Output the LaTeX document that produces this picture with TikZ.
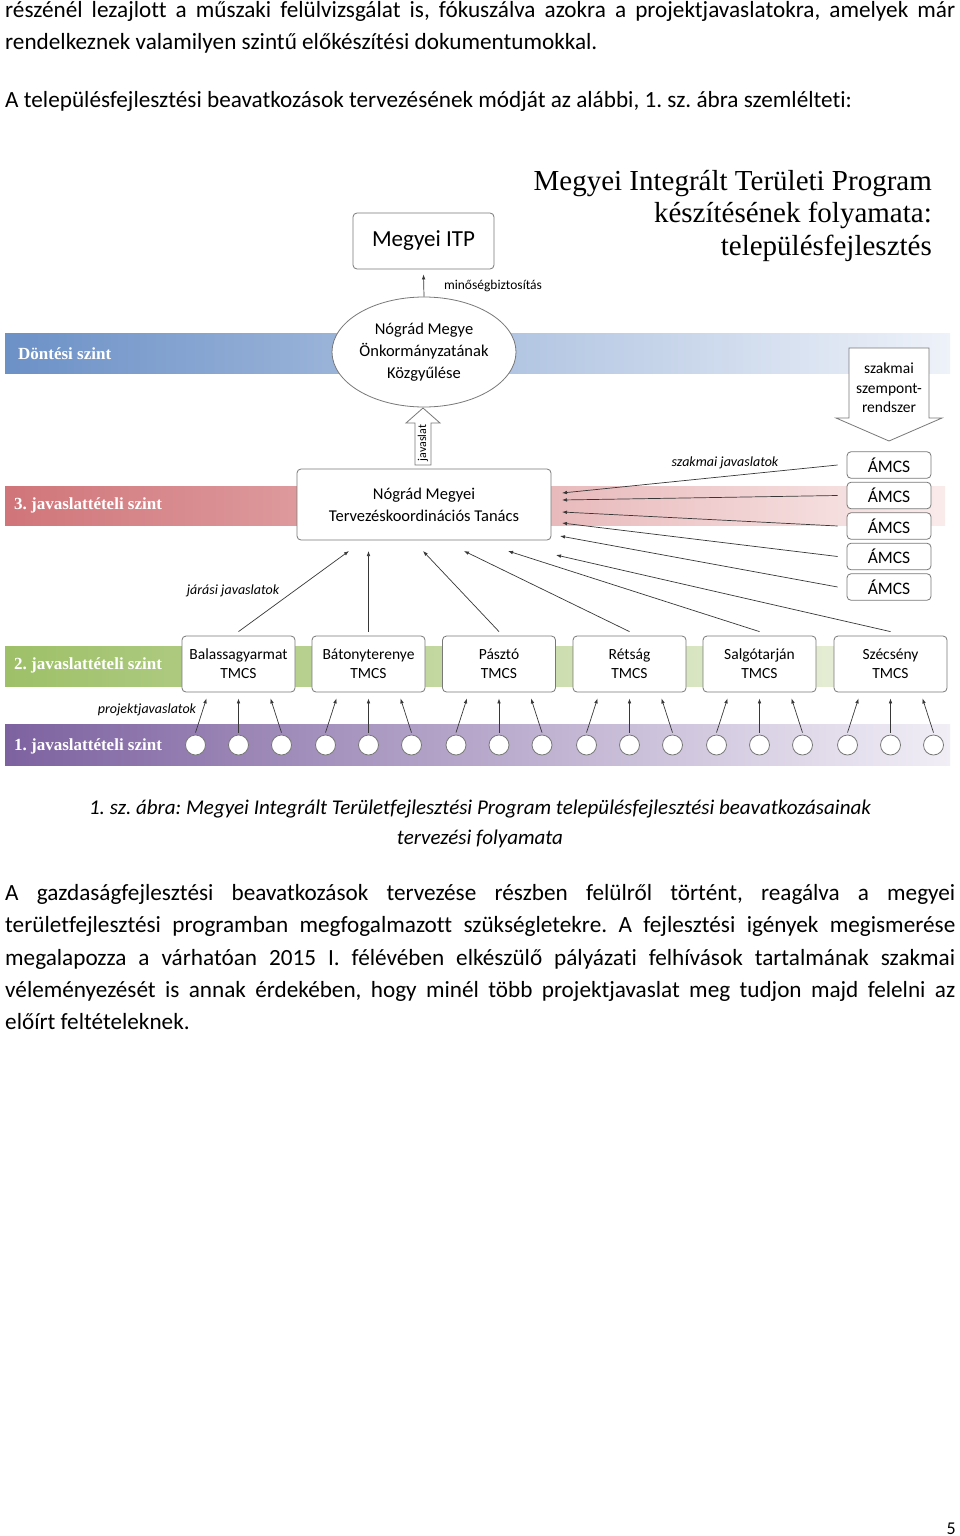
\documentclass[tikz,border=0pt]{standalone}
\usepackage{fontspec}
\setmainfont[Ligatures=NoCommon]{Carlito}
\newfontfamily\cambria{Liberation Serif}
\usetikzlibrary{arrows.meta,shapes.geometric,positioning}
\definecolor{keret}{RGB}{120,120,120}
\definecolor{vonal}{RGB}{55,55,55}
\definecolor{kekb}{RGB}{108,145,199}
\definecolor{kekj}{RGB}{238,242,249}
\definecolor{pirb}{RGB}{208,117,121}
\definecolor{pirj}{RGB}{250,235,235}
\definecolor{zolb}{RGB}{158,192,104}
\definecolor{zolj}{RGB}{238,243,226}
\definecolor{lilb}{RGB}{125,98,160}
\definecolor{lilj}{RGB}{241,238,246}
\frenchspacing
\newcommand{\fs}[2]{\fontsize{#1}{#2}\selectfont}
\newcommand{\sor}[3]{\node[szoveg] (#1) at (5,#2) {\makebox[950pt][s]{#3}};}
\newcommand{\tmcs}[3]{%
  \node[tbox] (#1) at (#2,664) {#3\\TMCS};
  \foreach \i/\d/\s in {1/-43/-32,2/0/0,3/43/32}{%
    \node[kor] (#1k\i) at ({#2+\d},745) {};
    \draw[nyil] ([yshift=2pt]#1k\i.north) -- ([xshift=\s pt,yshift=-6pt]#1.south);
  }
}

\begin{document}
\begin{tikzpicture}[x=1pt,y=-1pt,
  nyil/.style={draw=vonal, line width=0.7pt, -{Latex[length=5pt,width=3.6pt]}},
  doboz/.style={draw=keret, line width=0.8pt, rounded corners=4pt, fill=white, align=center, inner sep=0pt},
  tbox/.style={doboz, minimum width=113pt, minimum height=56pt, font=\fs{15.5}{19}},
  abox/.style={doboz, minimum width=84pt, minimum height=26.5pt, font=\fs{17.5}{20}},
  kor/.style={circle, draw=keret, line width=0.8pt, fill=white, minimum size=20pt, inner sep=0pt},
  szint/.style={anchor=west, text=white, inner sep=0pt, font=\cambria\bfseries\fs{17}{20}},
  cimke/.style={font=\itshape\fs{14}{16}, inner sep=0pt},
  szoveg/.style={anchor=base west, inner sep=0pt, font=\fs{23.2}{32.3}}]
\useasboundingbox (0,0) rectangle (960,1536);
\fill[white] (0,0) rectangle (960,1536);

% szoveg felul
\sor{t1}{18}{részénél lezajlott a műszaki felülvizsgálat is, fókuszálva azokra a projektjavaslatokra, amelyek már}
\node[szoveg] (t2) at (5,50) {rendelkeznek valamilyen szintű előkészítési dokumentumokkal.};
\node[szoveg] (t3) at (5,108) {A településfejlesztési beavatkozások tervezésének módját az alábbi, 1. sz. ábra szemlélteti:};

% szintek
\shade[left color=kekb, right color=kekj] (5,333) rectangle (950,373);
\shade[left color=pirb, right color=pirj] (5,486) rectangle (945,525);
\shade[left color=zolb, right color=zolj] (5,646) rectangle (945,686);
\shade[left color=lilb, right color=lilj] (5,724) rectangle (950,765);
\node[szint] (dsz) at (18,354) {Döntési szint};
\node[szint] (sz3) at (14,505) {3. javaslattételi szint};
\node[szint] (sz2) at (14,665) {2. javaslattételi szint};
\node[szint] (sz1) at (14,746) {1. javaslattételi szint};

% cim
\node[anchor=north east, align=right, inner sep=0pt, font=\cambria\fs{29}{32.5}] (cim) at (932,170)
  {Megyei Integrált Területi Program\\készítésének folyamata:\\településfejlesztés};

% csomopontok
\node[doboz, minimum width=141pt, minimum height=56pt, font=\fs{23}{26}] (itp) at (423.5,241) {Megyei ITP};
\node[ellipse, draw=keret, line width=0.8pt, fill=white, minimum width=184pt, minimum height=110pt,
  inner sep=0pt, align=center, font=\fs{16.5}{22}] (kozgy) at (424,352) {Nógrád Megye\\Önkormányzatának\\Közgyűlése};
\node[doboz, minimum width=254pt, minimum height=71pt, font=\fs{16.5}{22}] (tanacs) at (424,504.5)
  {Nógrád Megyei\\Tervezéskoordinációs Tanács};

\draw[nyil] (kozgy.north) -- ([yshift=-5pt]itp.south);
\node[inner sep=0pt, font=\fs{13.5}{15}] (minoseg) at (493,286) {minőségbiztosítás};

% javaslat nyil
\draw[keret, line width=0.8pt, fill=white] (415,465) -- (415,423) -- (406,423) -- (423,408)
  -- (440,423) -- (431,423) -- (431,465) -- cycle;
\node[rotate=90, inner sep=0pt, font=\fs{12}{14}] (javaslat) at (423,443) {javaslat};

% szakmai szempontrendszer
\draw[keret, line width=0.8pt, fill=white] (849,348) -- (929,348) -- (929,418) -- (942,418)
  -- (889,441) -- (836,418) -- (849,418) -- cycle;
\node[align=center, inner sep=0pt, font=\fs{15.5}{19.5}] (szemp) at (889,388) {szakmai\\szempont-\\rendszer};

% AMCS
\node[abox] (amcs1) at (889,465) {ÁMCS};
\node[abox] (amcs2) [below=3.2pt of amcs1] {ÁMCS};
\node[abox] (amcs3) [below=3.2pt of amcs2] {ÁMCS};
\node[abox] (amcs4) [below=3.2pt of amcs3] {ÁMCS};
\node[abox] (amcs5) [below=3.2pt of amcs4] {ÁMCS};
\coordinate (ta1) at (562,493);
\coordinate (ta2) at (562,500);
\coordinate (ta3) at (562,512);
\coordinate (ta4) at (562,523);
\coordinate (ta5) at (560,536);
\draw[nyil] ([xshift=-9pt]amcs1.west) -- (ta1);
\draw[nyil] ([xshift=-9pt]amcs2.west) -- (ta2);
\draw[nyil] ([xshift=-9pt]amcs3.west) -- (ta3);
\draw[nyil] ([xshift=-9pt]amcs4.west) -- (ta4);
\draw[nyil] ([xshift=-9pt]amcs5.west) -- (ta5);
\node[cimke] (szjav) at (725,463) {szakmai javaslatok};

% TMCS-ek es projektek
\tmcs{balassa}{238.5}{Balassagyarmat}
\tmcs{baton}{368.5}{Bátonyterenye}
\tmcs{paszto}{499}{Pásztó}
\tmcs{retsag}{629.5}{Rétság}
\tmcs{salgo}{759.5}{Salgótarján}
\tmcs{szecs}{890.5}{Szécsény}

\coordinate (tb1) at (349,551);
\coordinate (tb2) at (368.5,551);
\coordinate (tb3) at (423,551);
\coordinate (tb4) at (464,551);
\coordinate (tb5) at (508,551);
\coordinate (tb6) at (556,555);
\draw[nyil] ([yshift=4pt]balassa.north) -- (tb1);
\draw[nyil] ([yshift=4pt]baton.north) -- (tb2);
\draw[nyil] ([yshift=4pt]paszto.north) -- (tb3);
\draw[nyil] ([yshift=4pt]retsag.north) -- (tb4);
\draw[nyil] ([yshift=4pt]salgo.north) -- (tb5);
\draw[nyil] ([yshift=4pt]szecs.north) -- (tb6);
\node[cimke] (jarasi) at (233,591) {járási javaslatok};
\node[cimke] (projjav) at (147,710) {projektjavaslatok};

% abrafelirat
\node[anchor=base, inner sep=0pt, font=\itshape\fs{21}{30}] (fel1) at (480,814)
  {1. sz. ábra: Megyei Integrált Területfejlesztési Program településfejlesztési beavatkozásainak};
\node[anchor=base, inner sep=0pt, font=\itshape\fs{21}{30}] (fel2) at (480,844) {tervezési folyamata};

% bekezdes
\sor{p1}{900}{A gazdaságfejlesztési beavatkozások tervezése részben felülről történt, reagálva a megyei}
\sor{p2}{932}{területfejlesztési programban megfogalmazott szükségletekre. A fejlesztési igények megismerése}
\sor{p3}{965}{megalapozza a várhatóan 2015 I. félévében elkészülő pályázati felhívások tartalmának szakmai}
\sor{p4}{997}{véleményezését is annak érdekében, hogy minél több projektjavaslat meg tudjon majd felelni az}
\node[szoveg] (p5) at (5,1029) {előírt feltételeknek.};

\node[anchor=base east, inner sep=0pt, font=\fs{18}{20}] (oldal) at (956,1534) {5};
\end{tikzpicture}
\end{document}
